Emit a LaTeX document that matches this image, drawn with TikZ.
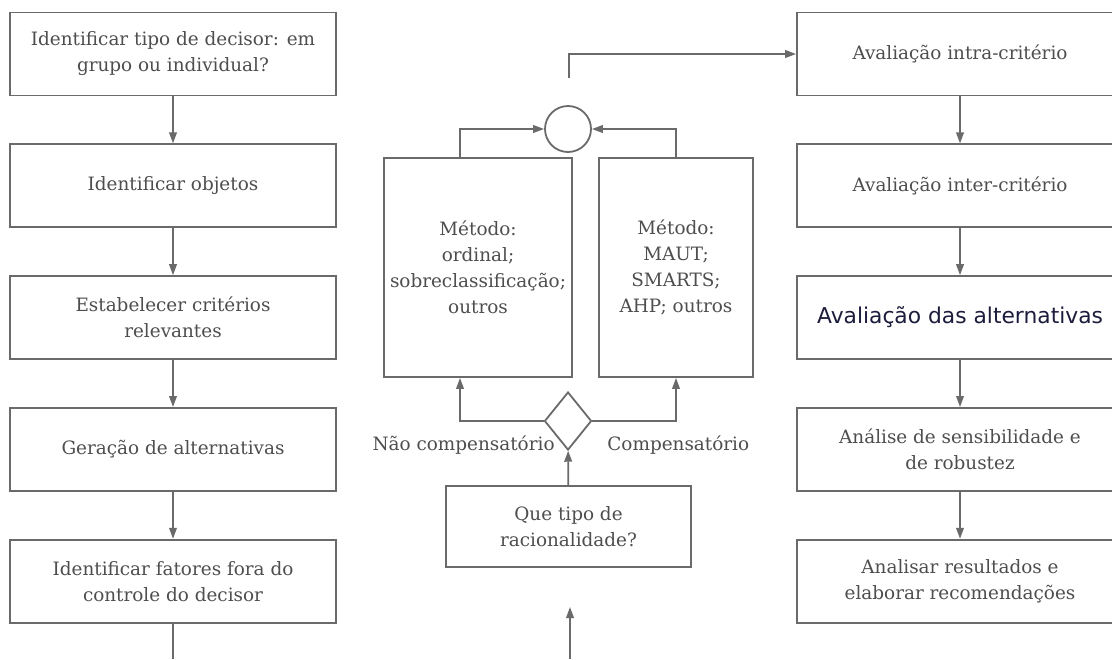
\documentclass[tikz,border=0pt]{standalone}
\usepackage{fontspec}
\setmainfont{DejaVu Serif}
\newfontfamily\uifont{DejaVu Sans}
\usetikzlibrary{positioning,arrows.meta,shapes.geometric}
\definecolor{linegrey}{HTML}{6A6A6A}
\definecolor{textgrey}{HTML}{4E4E4E}
\definecolor{uinavy}{HTML}{1C1C3C}

\tikzset{
  stepbox/.style={draw=linegrey, line width=0.9pt, minimum width=163pt, minimum height=41.5pt, align=center, text=textgrey, inner sep=2pt},
  methodbox/.style={draw=linegrey, line width=0.9pt, minimum height=109.5pt, align=center, text=textgrey, inner sep=1pt},
  flow/.style={-{Triangle[length=5.5pt,width=3.8pt]}, draw=linegrey, line width=0.9pt},
  plain/.style={draw=linegrey, line width=0.9pt},
  lbl/.style={text=textgrey, inner sep=0pt}
}

\begin{document}
\begin{tikzpicture}[x=0.5pt, y=-0.5pt, node distance=23.5pt, font=\fontsize{9.2}{13}\selectfont]
  \useasboundingbox[fill=white] (0,0) rectangle (1112,659);
  \clip (0,0) rectangle (1112,659);

  % left column
  \node[stepbox] (l1) at (173,54) {Identificar tipo de decisor: em\\grupo ou individual?};
  \node[stepbox, below=of l1] (l2) {Identificar objetos};
  \node[stepbox, below=of l2] (l3) {Estabelecer critérios\\relevantes};
  \node[stepbox, below=of l3] (l4) {Geração de alternativas};
  \node[stepbox, below=of l4] (l5) {Identificar fatores fora do\\controle do decisor};
  \coordinate (lend) at (173,659);
  \draw[flow] (l1) -- (l2);
  \draw[flow] (l2) -- (l3);
  \draw[flow] (l3) -- (l4);
  \draw[flow] (l4) -- (l5);
  \draw[plain] (l5) -- (lend);

  % middle column
  \node[circle, draw=linegrey, line width=0.9pt, minimum size=23pt, inner sep=0pt] (join) at (568,129) {};
  \node[methodbox, minimum width=94pt] (mleft) at (478,267.5) {Método:\\ordinal;\\sobreclassificação;\\outros};
  \node[methodbox, minimum width=77pt] (mright) at (676,267.5) {Método:\\MAUT;\\SMARTS;\\AHP; outros};
  \node[diamond, draw=linegrey, line width=0.9pt, minimum width=23.5pt, minimum height=29pt, inner sep=0pt] (choice) at (568,421) {};
  \node[stepbox, minimum width=122.5pt, minimum height=40.5pt] (rat) at (568.5,526.5) {Que tipo de\\racionalidade?};
  \node[lbl, anchor=east] (ncomp) at (555,445) {Não compensatório};
  \node[lbl, anchor=west] (comp) at (607,445) {Compensatório};
  \coordinate (mstart) at (570,659);
  \coordinate (mend) at (570,607);
  \coordinate (tstart) at (569,78);
  \draw[flow] (mstart) -- (mend);
  \draw[flow] (rat) -- (choice);
  \draw[flow] (choice.west) -| ([xshift=-9pt]mleft.south);
  \draw[flow] (choice.east) -| (mright.south);
  \draw[flow] ([xshift=-9pt]mleft.north) |- (join.west);
  \draw[flow] (mright.north) |- (join.east);

  % right column
  \node[stepbox] (r1) at (960,54) {Avaliação intra-critério};
  \node[stepbox, below=of r1] (r2) {Avaliação inter-critério};
  \node[stepbox, below=of r2] (r3) {\raisebox{3pt}{\uifont\fontsize{10.9}{12}\selectfont\color{uinavy}Avaliação das alternativas}};
  \node[stepbox, below=of r3] (r4) {Análise de sensibilidade e\\de robustez};
  \node[stepbox, below=of r4] (r5) {Analisar resultados e\\elaborar recomendações};
  \draw[flow] (tstart) |- (r1.west);
  \draw[flow] (r1) -- (r2);
  \draw[flow] (r2) -- (r3);
  \draw[flow] (r3) -- (r4);
  \draw[flow] (r4) -- (r5);
\end{tikzpicture}
\end{document}
